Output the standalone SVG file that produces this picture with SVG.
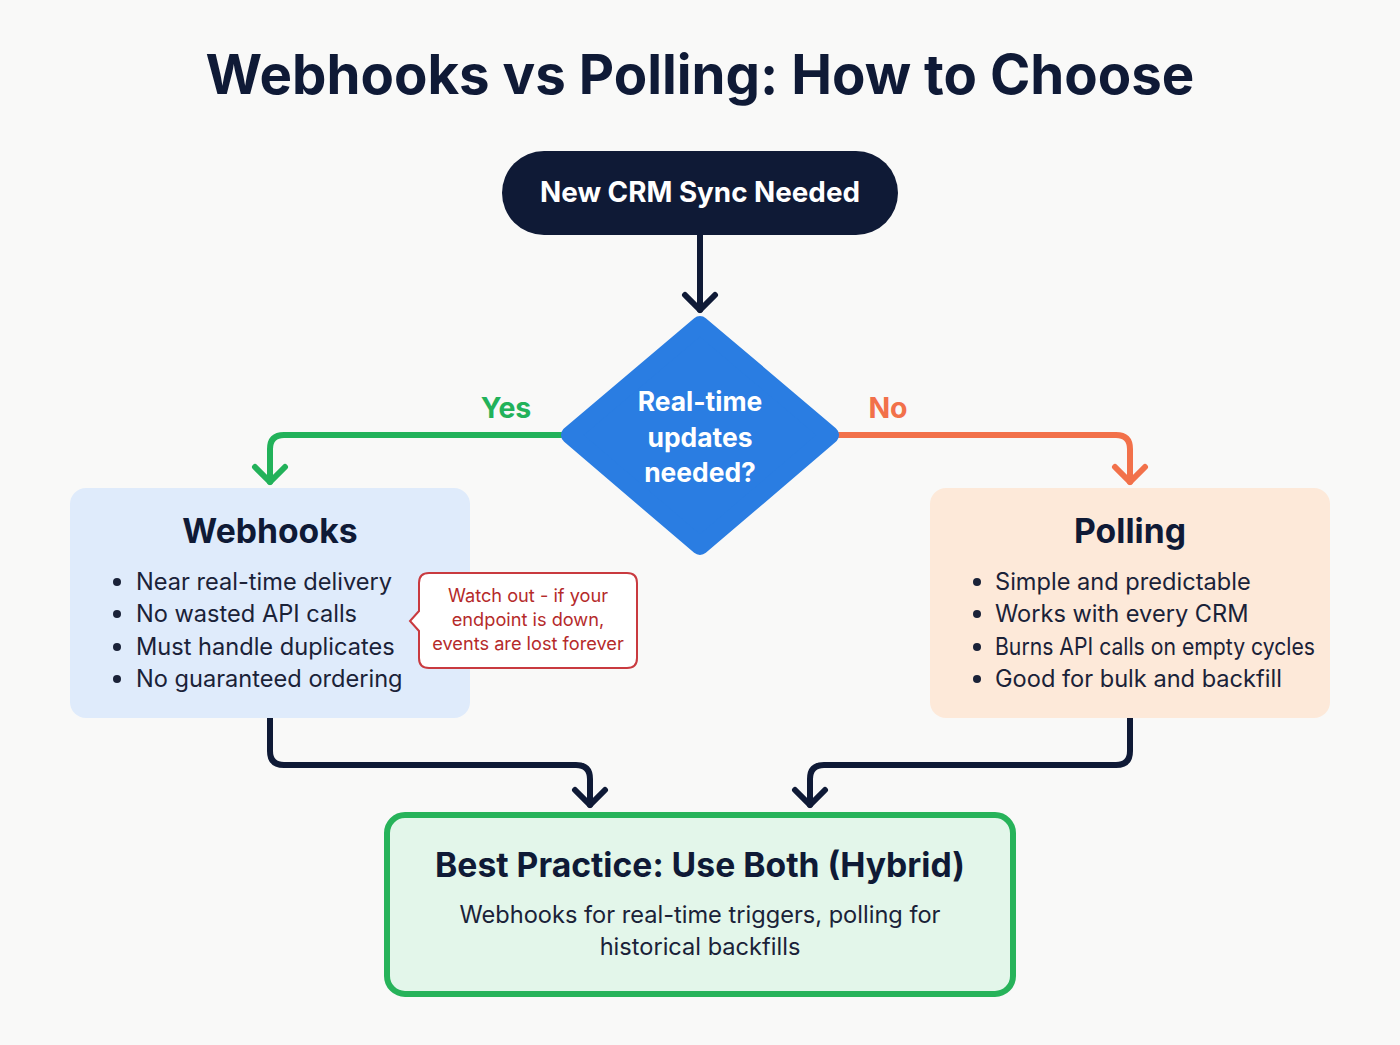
<svg xmlns="http://www.w3.org/2000/svg" width="1400" height="1045" viewBox="0 0 1400 1045">
<style>
text{font-family:Inter,"Noto Sans","Liberation Sans",sans-serif}
.title{font-size:54.6px;font-weight:700;fill:#0f1a36}
.start{font-size:27.8px;font-weight:700;fill:#ffffff}
.dec{font-size:26.4px;font-weight:700;fill:#ffffff}
.lab{font-size:28.5px;font-weight:700}
.h{font-size:33.7px;font-weight:700;fill:#0f1a36}
.li{font-size:23.6px;fill:#1a2238}
.warn{font-size:18.2px;fill:#b52a2a}
.sub{font-size:23.6px;fill:#1a2238}
.c{fill:none;stroke-width:6;stroke-linecap:round;stroke-linejoin:round}
</style>
<defs>
<marker id="mNavy" markerUnits="userSpaceOnUse" viewBox="-20 -20 24 40" markerWidth="24" markerHeight="40" refX="0" refY="0" orient="auto"><path d="M-15,-15 L0,0 L-15,15" fill="none" stroke="#0f1a36" stroke-width="6" stroke-linecap="round" stroke-linejoin="round"/></marker>
<marker id="mGreen" markerUnits="userSpaceOnUse" viewBox="-20 -20 24 40" markerWidth="24" markerHeight="40" refX="0" refY="0" orient="auto"><path d="M-15,-15 L0,0 L-15,15" fill="none" stroke="#22b25a" stroke-width="6" stroke-linecap="round" stroke-linejoin="round"/></marker>
<marker id="mOrange" markerUnits="userSpaceOnUse" viewBox="-20 -20 24 40" markerWidth="24" markerHeight="40" refX="0" refY="0" orient="auto"><path d="M-15,-15 L0,0 L-15,15" fill="none" stroke="#f2714a" stroke-width="6" stroke-linecap="round" stroke-linejoin="round"/></marker>
</defs>
<rect width="1400" height="1045" fill="#f9f9f8"/>
<text class="title" x="700" y="94" text-anchor="middle">Webhooks vs Polling: How to Choose</text>

<g id="connectors">
<path class="c" stroke="#0f1a36" d="M700,235 V310" marker-end="url(#mNavy)"/>
<path class="c" stroke="#22b25a" d="M561,435 H284 Q270,435 270,449 V482" marker-end="url(#mGreen)"/>
<path class="c" stroke="#f2714a" d="M839,435 H1116 Q1130,435 1130,449 V482" marker-end="url(#mOrange)"/>
<path class="c" stroke="#0f1a36" d="M270,718 V751 Q270,765 284,765 H576 Q590,765 590,779 V805" marker-end="url(#mNavy)"/>
<path class="c" stroke="#0f1a36" d="M1130,718 V751 Q1130,765 1116,765 H824 Q810,765 810,779 V805" marker-end="url(#mNavy)"/>
<text class="lab" x="506" y="418" text-anchor="middle" fill="#22b25a">Yes</text>
<text class="lab" x="888" y="418" text-anchor="middle" fill="#f2714a">No</text>
</g>

<g id="start">
<rect x="502" y="151" width="396" height="84" rx="42" fill="#0f1a36"/>
<text class="start" x="700" y="202" text-anchor="middle">New CRM Sync Needed</text>
</g>

<g id="decision">
<polygon points="700,325 830,435 700,546 570,435" fill="#2a7de2" stroke="#2a7de2" stroke-width="18" stroke-linejoin="round"/>
<text class="dec" x="700" y="411" text-anchor="middle">Real-time</text>
<text class="dec" x="700" y="447" text-anchor="middle">updates</text>
<text class="dec" x="700" y="482" text-anchor="middle">needed?</text>
</g>

<g id="webhooks">
<rect x="70" y="488" width="400" height="230" rx="16" fill="#dfebfb"/>
<text class="h" x="270" y="543" text-anchor="middle">Webhooks</text>
<circle cx="117" cy="582" r="4" fill="#1a2238"/>
<circle cx="117" cy="614" r="4" fill="#1a2238"/>
<circle cx="117" cy="647" r="4" fill="#1a2238"/>
<circle cx="117" cy="679" r="4" fill="#1a2238"/>
<text class="li" x="136" y="590">Near real-time delivery</text>
<text class="li" x="136" y="622">No wasted API calls</text>
<text class="li" x="136" y="655">Must handle duplicates</text>
<text class="li" x="136" y="687">No guaranteed ordering</text>
</g>

<g id="warning">
<path d="M429,573 H627 Q637,573 637,583 V658 Q637,668 627,668 H429 Q419,668 419,658 V631 L410,621 L419,611 V583 Q419,573 429,573 Z" fill="#ffffff" stroke="#c93a3f" stroke-width="2"/>
<text class="warn" x="528" y="602" text-anchor="middle">Watch out - if your</text>
<text class="warn" x="528" y="626" text-anchor="middle">endpoint is down,</text>
<text class="warn" x="528" y="650" text-anchor="middle">events are lost forever</text>
</g>

<g id="polling">
<rect x="930" y="488" width="400" height="230" rx="16" fill="#fde9d9"/>
<text class="h" x="1130" y="543" text-anchor="middle">Polling</text>
<circle cx="977" cy="582" r="4" fill="#1a2238"/>
<circle cx="977" cy="614" r="4" fill="#1a2238"/>
<circle cx="977" cy="647" r="4" fill="#1a2238"/>
<circle cx="977" cy="679" r="4" fill="#1a2238"/>
<text class="li" x="995" y="590">Simple and predictable</text>
<text class="li" x="995" y="622">Works with every CRM</text>
<text class="li" x="995" y="655" textLength="320" lengthAdjust="spacingAndGlyphs">Burns API calls on empty cycles</text>
<text class="li" x="995" y="687">Good for bulk and backfill</text>
</g>

<g id="hybrid">
<rect x="387" y="815" width="626" height="179" rx="18" fill="#e3f6ea" stroke="#27b35a" stroke-width="6"/>
<text class="h" x="700" y="877" text-anchor="middle">Best Practice: Use Both (Hybrid)</text>
<text class="sub" x="700" y="923" text-anchor="middle">Webhooks for real-time triggers, polling for</text>
<text class="sub" x="700" y="955" text-anchor="middle">historical backfills</text>
</g>
</svg>
